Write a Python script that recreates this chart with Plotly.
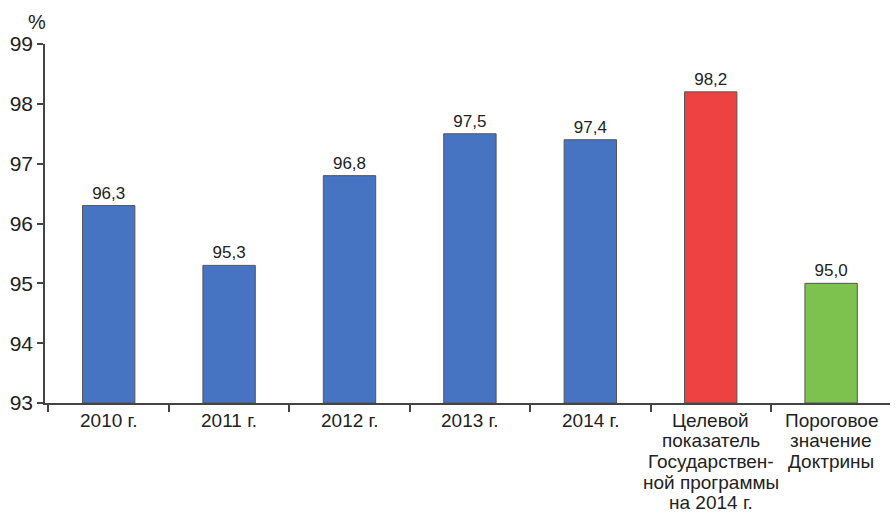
import plotly.graph_objects as go

categories = ["2010 г.", "2011 г.", "2012 г.", "2013 г.", "2014 г.",
              "Целевой показатель Государственной программы на 2014 г.",
              "Пороговое значение Доктрины"]
tick_lines = [["2010 г."], ["2011 г."], ["2012 г."], ["2013 г."], ["2014 г."],
              ["Целевой", "показатель", "Государствен-", "ной программы", "на 2014 г."],
              ["Пороговое", "значение", "Доктрины"]]
values = [96.3, 95.3, 96.8, 97.5, 97.4, 98.2, 95.0]
labels = ["96,3", "95,3", "96,8", "97,5", "97,4", "98,2", "95,0"]
colors = ["#4673c2", "#4673c2", "#4673c2", "#4673c2", "#4673c2", "#ee4242", "#7dc24f"]
base_value = 93

FONT = "Liberation Sans, Arial, sans-serif"
TXT = "#222222"

fig = go.Figure(go.Bar(
    x=categories, y=[v - base_value for v in values], base=base_value,
    marker=dict(color=colors, line=dict(color="#555555", width=1)),
    text=labels, textposition="outside", cliponaxis=False,
    textfont=dict(size=17, color=TXT, family=FONT),
))

fig.update_layout(
    width=896, height=517,
    margin=dict(l=45, r=6, t=44, b=114),
    paper_bgcolor="white", plot_bgcolor="white",
    bargap=0.565,
    showlegend=False,
    font=dict(family=FONT, color=TXT),
)
fig.update_xaxes(
    range=[-0.529, 6.489],
    showline=True, linecolor="#444444", linewidth=1.5,
    ticks="outside", tickson="boundaries", ticklen=7, tickcolor="#444444", tickwidth=1.5,
    showticklabels=False, automargin=False,
)
fig.update_yaxes(
    range=[93, 99], tickvals=[93, 94, 95, 96, 97, 98, 99],
    showgrid=False, zeroline=False,
    showline=True, linecolor="#444444", linewidth=1.5,
    ticks="outside", ticklen=6, tickcolor="#444444", tickwidth=1.5,
    tickfont=dict(size=21, color=TXT), automargin=False,
)
for cat, lines in zip(categories, tick_lines):
    for j, line in enumerate(lines):
        fig.add_annotation(x=cat, xref="x", y=0, yref="paper",
                           yanchor="middle", yshift=-(17 + 20.7 * j),
                           text=line, showarrow=False,
                           font=dict(size=19, color=TXT, family=FONT))
fig.add_annotation(x=0, xref="paper", xanchor="right", xshift=3,
                   y=99, yref="y", yanchor="bottom", yshift=9,
                   text="%", showarrow=False, font=dict(size=20, color=TXT, family=FONT))
fig.write_html("out.html", config={"displayModeBar": False},
               post_script="document.body.style.margin='0';document.body.style.overflow='hidden';")
